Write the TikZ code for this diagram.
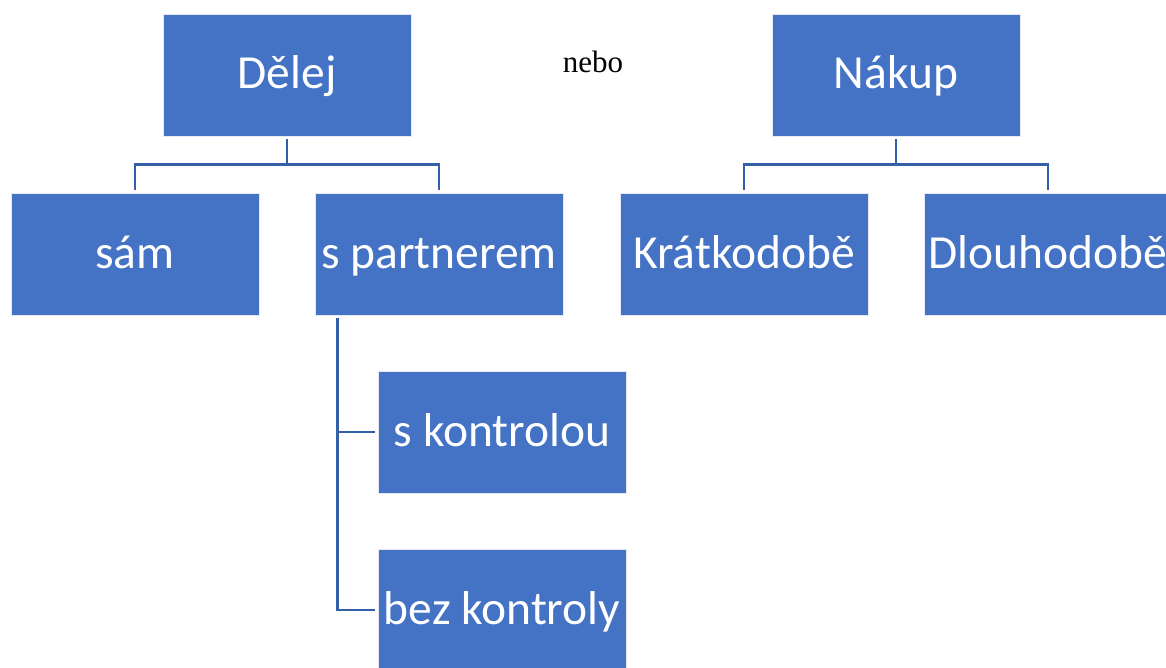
\documentclass[tikz,border=0pt]{standalone}
\usepackage{fontspec}
\setmainfont{Carlito}
\newfontfamily\timesfont{Liberation Serif}
\definecolor{boxblue}{HTML}{4472C4}
\definecolor{lineblue}{HTML}{3560A8}
\begin{document}
\begin{tikzpicture}[x=1pt,y=-1pt,
  orgbox/.style={rectangle, fill=boxblue, draw=white!85!boxblue, line width=0.8pt,
    minimum width=248pt, minimum height=122pt, inner sep=0pt, text=white,
    font=\fontsize{47.5}{56}\selectfont, text height=30pt, text depth=2pt, align=center},
  conn/.style={draw=lineblue, line width=2.8pt, shorten <=3pt, shorten >=3pt}]
\useasboundingbox (0,0) rectangle (1166,668);
\clip (0,0) rectangle (1166,668);
\node[orgbox] (delej) at (287,75) {Dělej};
\node[orgbox] (nakup) at (896,75) {Nákup};
\node[orgbox] (sam) at (135,254) {sám};
\node[orgbox] (spart) at (439,254) {s partnerem};
\node[orgbox] (kratko) at (744,254) {Krátkodobě};
\node[orgbox] (dlouho) at (1048,254) {Dlouhodobě};
\node[orgbox] (skontr) at (502,432) {s kontrolou};
\node[orgbox] (bezkontr) at (502,610) {bez kontroly};
\node[font=\timesfont\fontsize{31}{36}\selectfont, inner sep=0pt] (nebo) at (593,62) {nebo};
\path[conn] (delej.south) -- ++(0,28) -| (sam.north);
\path[conn] (delej.south) -- ++(0,28) -| (spart.north);
\path[conn] (nakup.south) -- ++(0,28) -| (kratko.north);
\path[conn] (nakup.south) -- ++(0,28) -| (dlouho.north);
\coordinate (sp) at ([xshift=23pt]spart.south west);
\path[conn] (sp) |- (skontr.west);
\path[conn] (sp) |- (bezkontr.west);
\end{tikzpicture}
\end{document}
